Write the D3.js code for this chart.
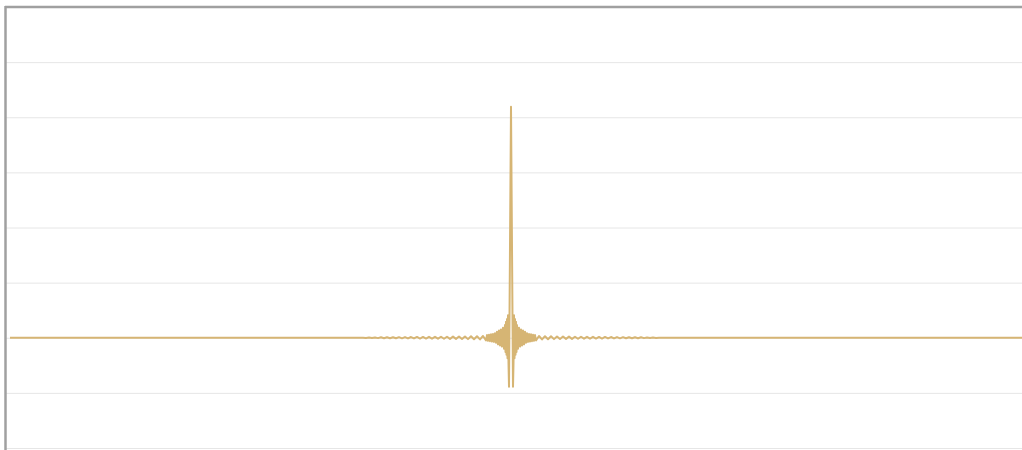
<!DOCTYPE html>
<html>
<head>
<meta charset="utf-8">
<script src="https://cdn.jsdelivr.net/npm/d3@7"></script>
<style>
  html, body { margin: 0; padding: 0; background: #fff; }
  svg { display: block; }
</style>
</head>
<body>
<svg id="chart" width="1022" height="450"></svg>
<script>
// Sample offsets (relative to the pulse centre)
const offsets = [
  -501, -151,
  -148, -145, -142, -139, -136, -133, -130, -127, -124, -121, -118, -115, -112, -109,
  -106, -103, -100, -97, -94, -91, -88, -85, -82, -79, -76, -73, -70, -67, -64, -61,
  -58, -55, -52, -49, -46, -43, -40, -37, -34, -31, -28,
  -25, -24, -23, -22, -21, -20, -19, -18, -17, -16, -15, -14, -13, -12, -11, -10,
  -9, -8, -7, -6,
  -5.5, -5, -4.5, -4, -3.5, -3, -2.5,
  -2, 0, 2,
  2.5, 3, 3.5, 4, 4.5, 5, 5.5,
  6, 7, 8, 9, 10, 11, 12, 13, 14, 15, 16, 17, 18, 19, 20, 21, 22, 23, 24, 25,
  28, 31, 34, 37, 40, 43, 46, 49, 52, 55, 58, 61, 64, 67, 70, 73, 76, 79, 82, 85,
  88, 91, 94, 97, 100, 103, 106, 109, 112, 115, 118, 121, 124, 127, 130, 133, 136,
  139, 142, 145, 148, 151, 520
];
// Signal amplitude at each offset
const amplitudes = [
  0, 0,
  0.002, -0.003, 0.004, -0.005, 0.006, -0.007, 0.008, -0.008, 0.009, -0.009, 0.01, -0.01, 0.011, -0.011,
  0.012, -0.012, 0.013, -0.013, 0.014, -0.014, 0.015, -0.015, 0.016, -0.016, 0.017, -0.017, 0.018, -0.018, 0.019, -0.02,
  0.02, -0.021, 0.022, -0.023, 0.024, -0.025, 0.026, -0.027, 0.028, -0.03, 0.032,
  -0.048, 0.048, -0.055, 0.055, -0.062, 0.062, -0.068, 0.068, -0.075, 0.082, -0.089, 0.11, -0.12, 0.13, -0.14, 0.15,
  -0.16, 0.18, -0.20, 0.23,
  -0.26, 0.29, -0.31, 0.34, -0.37, 0.41, -0.46,
  -0.89, 4.19, -0.89,
  -0.46, 0.41, -0.37, 0.34, -0.31, 0.29, -0.26,
  0.23, -0.20, 0.18, -0.16, 0.15, -0.14, 0.13, -0.12, 0.11, -0.089, 0.082, -0.075, 0.068, -0.068, 0.062, -0.062, 0.055, -0.055, 0.048, -0.048,
  0.032, -0.03, 0.028, -0.027, 0.026, -0.025, 0.024, -0.023, 0.022, -0.021, 0.02, -0.02, 0.019, -0.018, 0.018, -0.017, 0.017, -0.016, 0.016, -0.015,
  0.015, -0.014, 0.014, -0.013, 0.013, -0.012, 0.012, -0.011, 0.011, -0.01, 0.01, -0.009, 0.009, -0.008, 0.008, -0.007, 0.006,
  -0.005, 0.004, -0.003, 0.002, 0, 0
];
const gridValues = [-2, -1, 0, 1, 2, 3, 4, 5, 6];

(function () {
  const svg = d3.select("#chart");
  const mLeft = 6, mTop = 7, mRight = 1022, mBottom = 448;

  const x = d3.scaleLinear().domain([-505, 511]).range([mLeft, mRight]);
  const y = d3.scaleLinear().domain([-2, 6]).range([mBottom, mTop]);

  // gridlines
  svg.append("g")
    .attr("transform", `translate(${mLeft},0)`)
    .call(d3.axisLeft(y).tickValues(gridValues).tickSize(-(mRight - mLeft)).tickFormat(""))
    .call(g => g.select(".domain").remove())
    .call(g => g.selectAll(".tick line").attr("stroke", "#e6e6e6").attr("stroke-width", 1));

  // data line
  const data = offsets.map((o, i) => ({ t: o, v: amplitudes[i] }));
  svg.append("path")
    .datum(data)
    .attr("fill", "none")
    .attr("stroke", "#d6b574")
    .attr("stroke-width", 2)
    .attr("stroke-linejoin", "round")
    .attr("d", d3.line().x(d => x(d.t)).y(d => y(d.v)));

  // frame (top and left)
  svg.append("line")
    .attr("x1", mLeft - 1).attr("x2", mRight).attr("y1", mTop).attr("y2", mTop)
    .attr("stroke", "#a0a0a0").attr("stroke-width", 2.5);
  svg.append("line")
    .attr("x1", mLeft - 0.5).attr("x2", mLeft - 0.5).attr("y1", mTop - 1).attr("y2", 450)
    .attr("stroke", "#a0a0a0").attr("stroke-width", 2.5);
})();
</script>
</body>
</html>
